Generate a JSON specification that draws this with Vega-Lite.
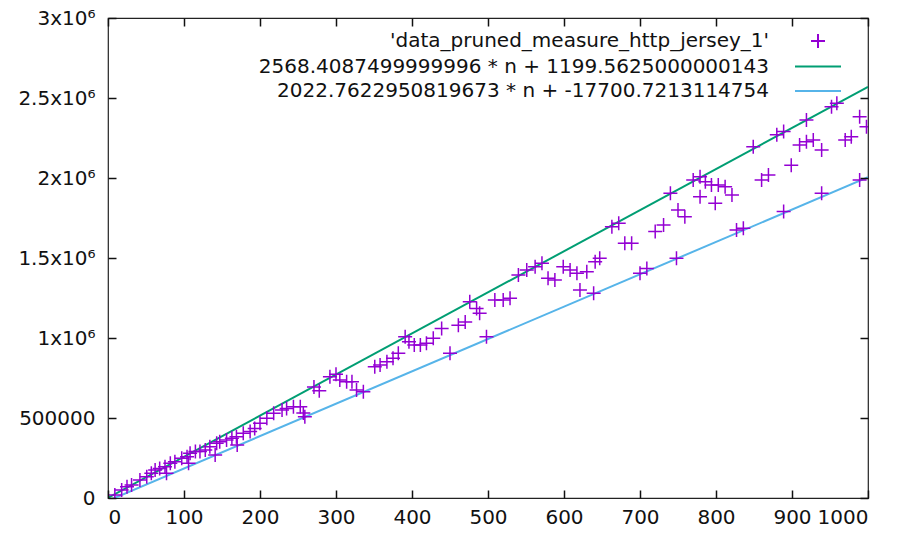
{
  "$schema": "https://vega.github.io/schema/vega-lite/v6.json",
  "width": 760,
  "height": 480,
  "autosize": {"type": "none"},
  "padding": {"left": 108, "top": 18, "right": 30, "bottom": 35},
  "config": {
    "font": "DejaVu Sans",
    "view": {"stroke": "#222", "strokeWidth": 1.2},
    "axis": {
      "grid": false,
      "domain": false,
      "labelFont": "DejaVu Sans",
      "labelFontSize": 20,
      "labelColor": "#111",
      "title": null
    },
    "legend": {
      "labelFont": "DejaVu Sans",
      "labelFontSize": 20,
      "labelColor": "#111"
    }
  },
  "datasets": {
    "measure": [
      {"s": "d", "n": 9, "v": 19000}, {"s": "d", "n": 18, "v": 50000}, {"s": "d", "n": 25, "v": 71000},
      {"s": "d", "n": 31, "v": 81000}, {"s": "d", "n": 42, "v": 112000}, {"s": "d", "n": 51, "v": 133000},
      {"s": "d", "n": 57, "v": 154000}, {"s": "d", "n": 62, "v": 175000}, {"s": "d", "n": 68, "v": 185000},
      {"s": "d", "n": 75, "v": 196000}, {"s": "d", "n": 77, "v": 154000}, {"s": "d", "n": 82, "v": 217000},
      {"s": "d", "n": 88, "v": 227000}, {"s": "d", "n": 97, "v": 248000}, {"s": "d", "n": 104, "v": 258000},
      {"s": "d", "n": 106, "v": 217000}, {"s": "d", "n": 108, "v": 279000}, {"s": "d", "n": 115, "v": 290000},
      {"s": "d", "n": 121, "v": 290000}, {"s": "d", "n": 128, "v": 300000}, {"s": "d", "n": 134, "v": 321000},
      {"s": "d", "n": 141, "v": 269000}, {"s": "d", "n": 143, "v": 342000}, {"s": "d", "n": 147, "v": 352000},
      {"s": "d", "n": 156, "v": 362000}, {"s": "d", "n": 163, "v": 373000}, {"s": "d", "n": 169, "v": 383000},
      {"s": "d", "n": 170, "v": 331000}, {"s": "d", "n": 178, "v": 404000}, {"s": "d", "n": 187, "v": 415000},
      {"s": "d", "n": 193, "v": 435000}, {"s": "d", "n": 200, "v": 467000}, {"s": "d", "n": 209, "v": 498000},
      {"s": "d", "n": 218, "v": 529000}, {"s": "d", "n": 229, "v": 550000}, {"s": "d", "n": 235, "v": 560000},
      {"s": "d", "n": 244, "v": 571000}, {"s": "d", "n": 253, "v": 571000}, {"s": "d", "n": 257, "v": 531000},
      {"s": "d", "n": 259, "v": 508000}, {"s": "d", "n": 271, "v": 694000}, {"s": "d", "n": 278, "v": 670000},
      {"s": "d", "n": 292, "v": 758000}, {"s": "d", "n": 300, "v": 774000}, {"s": "d", "n": 305, "v": 737000},
      {"s": "d", "n": 314, "v": 727000}, {"s": "d", "n": 321, "v": 727000}, {"s": "d", "n": 327, "v": 675000},
      {"s": "d", "n": 336, "v": 664000}, {"s": "d", "n": 351, "v": 820000}, {"s": "d", "n": 358, "v": 831000},
      {"s": "d", "n": 367, "v": 852000}, {"s": "d", "n": 375, "v": 873000}, {"s": "d", "n": 382, "v": 904000},
      {"s": "d", "n": 391, "v": 1008000}, {"s": "d", "n": 396, "v": 977000}, {"s": "d", "n": 403, "v": 956000},
      {"s": "d", "n": 411, "v": 956000}, {"s": "d", "n": 419, "v": 967000}, {"s": "d", "n": 428, "v": 998000},
      {"s": "d", "n": 439, "v": 1060000}, {"s": "d", "n": 450, "v": 904000}, {"s": "d", "n": 461, "v": 1080000},
      {"s": "d", "n": 470, "v": 1100000}, {"s": "d", "n": 476, "v": 1227000}, {"s": "d", "n": 485, "v": 1185000},
      {"s": "d", "n": 489, "v": 1154000}, {"s": "d", "n": 498, "v": 1008000}, {"s": "d", "n": 509, "v": 1237000},
      {"s": "d", "n": 520, "v": 1237000}, {"s": "d", "n": 529, "v": 1248000}, {"s": "d", "n": 540, "v": 1394000},
      {"s": "d", "n": 551, "v": 1425000}, {"s": "d", "n": 562, "v": 1446000}, {"s": "d", "n": 571, "v": 1467000},
      {"s": "d", "n": 579, "v": 1373000}, {"s": "d", "n": 588, "v": 1362000}, {"s": "d", "n": 599, "v": 1446000},
      {"s": "d", "n": 608, "v": 1425000}, {"s": "d", "n": 617, "v": 1404000}, {"s": "d", "n": 621, "v": 1300000},
      {"s": "d", "n": 630, "v": 1414000}, {"s": "d", "n": 639, "v": 1279000}, {"s": "d", "n": 641, "v": 1477000},
      {"s": "d", "n": 647, "v": 1498000}, {"s": "d", "n": 663, "v": 1696000}, {"s": "d", "n": 672, "v": 1717000},
      {"s": "d", "n": 680, "v": 1592000}, {"s": "d", "n": 689, "v": 1592000}, {"s": "d", "n": 700, "v": 1404000},
      {"s": "d", "n": 709, "v": 1435000}, {"s": "d", "n": 720, "v": 1665000}, {"s": "d", "n": 731, "v": 1706000},
      {"s": "d", "n": 740, "v": 1904000}, {"s": "d", "n": 748, "v": 1498000}, {"s": "d", "n": 750, "v": 1800000},
      {"s": "d", "n": 759, "v": 1758000}, {"s": "d", "n": 770, "v": 1988000}, {"s": "d", "n": 779, "v": 2008000},
      {"s": "d", "n": 779, "v": 1883000}, {"s": "d", "n": 786, "v": 1977000}, {"s": "d", "n": 794, "v": 1956000},
      {"s": "d", "n": 799, "v": 1842000}, {"s": "d", "n": 803, "v": 1956000}, {"s": "d", "n": 812, "v": 1946000},
      {"s": "d", "n": 821, "v": 1894000}, {"s": "d", "n": 827, "v": 1675000}, {"s": "d", "n": 836, "v": 1686000},
      {"s": "d", "n": 849, "v": 2196000}, {"s": "d", "n": 860, "v": 1988000}, {"s": "d", "n": 869, "v": 2019000},
      {"s": "d", "n": 880, "v": 2270000}, {"s": "d", "n": 889, "v": 2290000}, {"s": "d", "n": 889, "v": 1790000},
      {"s": "d", "n": 899, "v": 2080000}, {"s": "d", "n": 910, "v": 2206000}, {"s": "d", "n": 919, "v": 2227000},
      {"s": "d", "n": 919, "v": 2362000}, {"s": "d", "n": 928, "v": 2237000}, {"s": "d", "n": 939, "v": 2175000},
      {"s": "d", "n": 939, "v": 1904000}, {"s": "d", "n": 952, "v": 2446000}, {"s": "d", "n": 959, "v": 2467000},
      {"s": "d", "n": 970, "v": 2237000}, {"s": "d", "n": 978, "v": 2258000}, {"s": "d", "n": 989, "v": 2383000},
      {"s": "d", "n": 989, "v": 1988000}, {"s": "d", "n": 998, "v": 2320000}
    ],
    "fits": [
      {"s": "f1", "n": 0, "v": 1199.5625},
      {"s": "f1", "n": 1000, "v": 2569608.3125},
      {"s": "f2", "n": 0, "v": -17700.7213},
      {"s": "f2", "n": 1000, "v": 2005061.5738}
    ]
  },
  "layer": [
    {
      "data": {"name": "fits"},
      "mark": {"type": "line", "strokeWidth": 2, "clip": true},
      "encoding": {
        "x": {"field": "n", "type": "quantitative",
              "scale": {"domain": [0, 1000], "nice": false, "zero": false},
              "axis": {"orient": "top", "labels": false, "zindex": 1, "tickColor": "#111", "tickWidth": 1.5, "tickSize": 8, "offset": -8,
                       "values": [0, 100, 200, 300, 400, 500, 600, 700, 800, 900, 1000]}},
        "y": {"field": "v", "type": "quantitative",
              "scale": {"domain": [0, 3000000], "nice": false},
              "axis": {"orient": "right", "labels": false, "zindex": 1, "tickColor": "#111", "tickWidth": 1.5, "tickSize": -8,
                       "values": [0, 500000, 1000000, 1500000, 2000000, 2500000, 3000000]}},
        "color": {
          "field": "s", "type": "nominal",
          "legend": {
            "title": null, "orient": "none", "legendX": 699, "legendY": 12,
            "padding": 0, "rowPadding": 3.5, "symbolSize": 400, "symbolStrokeWidth": 2,
            "labelAlign": "right", "labelOffset": -60, "labelLimit": 0,
            "labelExpr": "datum.value == 'd' ? '\\'data_pruned_measure_http_jersey_1\\'' : datum.value == 'f1' ? '2568.4087499999996 * n + 1199.5625000000143' : '2022.7622950819673 * n + -17700.7213114754'"
          }
        }
      }
    },
    {
      "data": {"name": "measure"},
      "mark": {"type": "point", "filled": false, "size": 400, "strokeWidth": 1.5, "opacity": 1, "clip": true},
      "encoding": {
        "x": {"field": "n", "type": "quantitative",
              "axis": {"orient": "bottom", "format": "d", "zindex": 1, "labelOverlap": false, "tickColor": "#111", "tickWidth": 1.5, "tickSize": -8, "labelPadding": 17,
                       "values": [0, 100, 200, 300, 400, 500, 600, 700, 800, 900, 1000]}},
        "y": {"field": "v", "type": "quantitative",
              "axis": {"orient": "left", "zindex": 1, "labelOverlap": false, "tickColor": "#111", "tickWidth": 1.5, "tickSize": -8, "labelPadding": 21,
                       "values": [0, 500000, 1000000, 1500000, 2000000, 2500000, 3000000],
                       "labelExpr": "datum.value == 0 ? '0' : datum.value == 500000 ? '500000' : format(datum.value / 1000000, '') + 'x10⁶'"}},
        "color": {
          "field": "s", "type": "nominal",
          "scale": {"domain": ["d", "f1", "f2"], "range": ["#9400d3", "#009e73", "#56b4e9"]},
          "legend": {
            "title": null, "orient": "none", "legendX": 699, "legendY": 12,
            "padding": 0, "rowPadding": 3.5, "symbolSize": 400, "symbolStrokeWidth": 2,
            "labelAlign": "right", "labelOffset": -60, "labelLimit": 0,
            "labelExpr": "datum.value == 'd' ? '\\'data_pruned_measure_http_jersey_1\\'' : datum.value == 'f1' ? '2568.4087499999996 * n + 1199.5625000000143' : '2022.7622950819673 * n + -17700.7213114754'"
          }
        },
        "shape": {
          "field": "s", "type": "nominal",
          "scale": {"domain": ["d", "f1", "f2"], "range": ["M-0.7,0H0.7M0,-0.7V0.7", "M-2.3,0H2.3", "M-2.3,0H2.3"]},
          "legend": {
            "title": null, "orient": "none", "legendX": 699, "legendY": 12,
            "padding": 0, "rowPadding": 3.5, "symbolSize": 400, "symbolStrokeWidth": 2,
            "labelAlign": "right", "labelOffset": -60, "labelLimit": 0,
            "labelExpr": "datum.value == 'd' ? '\\'data_pruned_measure_http_jersey_1\\'' : datum.value == 'f1' ? '2568.4087499999996 * n + 1199.5625000000143' : '2022.7622950819673 * n + -17700.7213114754'"
          }
        }
      }
    }
  ],
  "resolve": {"axis": {"x": "independent", "y": "independent"}}
}
